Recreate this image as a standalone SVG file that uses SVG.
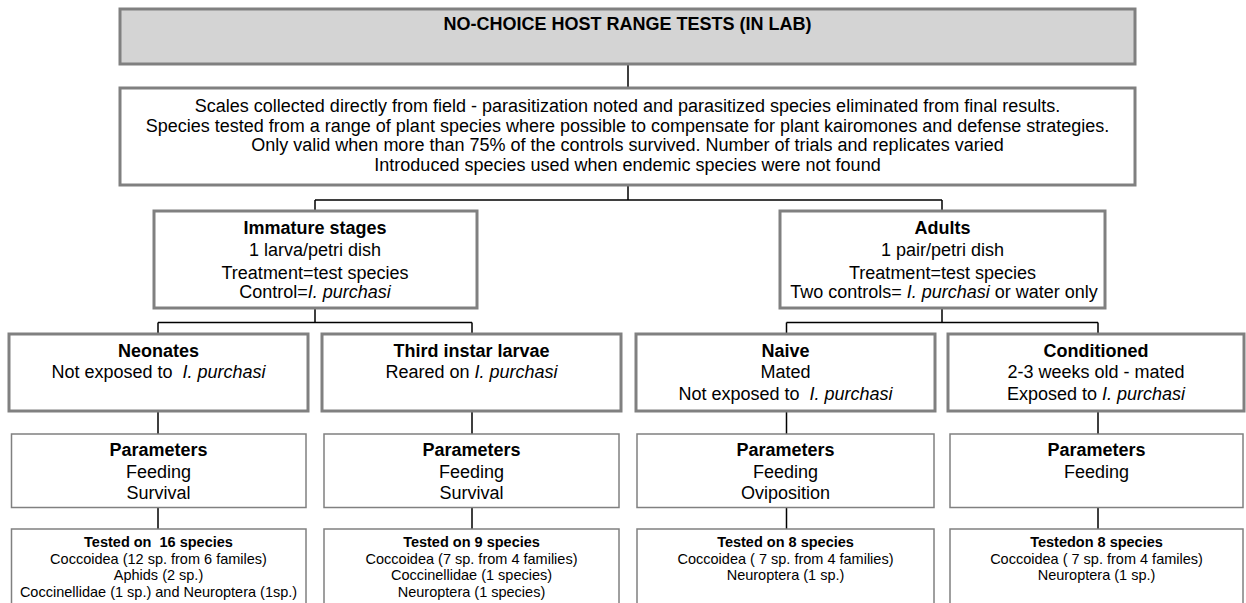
<svg xmlns="http://www.w3.org/2000/svg" width="1246" height="603" viewBox="0 0 1246 603" xml:space="preserve">
<style>
.gray{fill:#d4d4d4;stroke:#808080;stroke-width:3}
.thick{fill:#fff;stroke:#808080;stroke-width:3}
.thin{fill:#fff;stroke:#808080;stroke-width:1.5}
.c{fill:none;stroke:#000;stroke-width:1.5}
text{font-family:"Liberation Sans",Arial,sans-serif;font-size:18px;fill:#000;text-anchor:middle;white-space:pre}
.b{font-weight:bold}
.s{font-size:14.5px}
.i{font-style:italic}
</style>
<rect width="1246" height="603" fill="#fff"/>
<g id="connectors">
<path class="c" d="M628 64V88 M628 185V200 M315 200H942 M315 200V211 M942 200V211 M315 308V322.5 M158 322.5H472 M158 322.5V334 M472 322.5V334 M942 308V322.5 M786.5 322.5H1098 M786.5 322.5V334 M1098 322.5V334 M158 411V434 M472 411V434 M786.5 411V434 M1098 411V434 M158 507.5V529 M472 507.5V529 M786.5 507.5V529 M1098 507.5V529"/>
</g>
<g id="title">
<rect class="gray" x="120" y="9" width="1015" height="55"/>
<text class="b" x="627.5" y="30">NO-CHOICE HOST RANGE TESTS (IN LAB)</text>
</g>
<g id="conditions">
<rect class="thick" x="120" y="88" width="1015" height="97"/>
<text x="627.5" y="112">Scales collected directly from field - parasitization noted and parasitized species eliminated from final results.</text>
<text x="627.5" y="131.5">Species tested from a range of plant species where possible to compensate for plant kairomones and defense strategies.</text>
<text x="627.5" y="151">Only valid when more than 75% of the controls survived. Number of trials and replicates varied</text>
<text x="627.5" y="170.5">Introduced species used when endemic species were not found</text>
</g>
<g id="immature">
<rect class="thick" x="154" y="211" width="323" height="97"/>
<text class="b" x="315" y="234">Immature stages</text>
<text x="315" y="256">1 larva/petri dish</text>
<text x="315" y="279">Treatment=test species</text>
<text x="315" y="298">Control=<tspan class="i">I. purchasi</tspan></text>
</g>
<g id="adults">
<rect class="thick" x="780" y="211" width="325" height="97"/>
<text class="b" x="942.5" y="234">Adults</text>
<text x="942.5" y="256">1 pair/petri dish</text>
<text x="942.5" y="279">Treatment=test species</text>
<text x="944" y="298">Two controls= <tspan class="i">I. purchasi</tspan> or water only</text>
</g>
<g id="neonates">
<rect class="thick" x="9" y="334" width="299" height="77"/>
<text class="b" x="158.5" y="356.5">Neonates</text>
<text x="158.5" y="378">Not exposed to  <tspan class="i">I. purchasi</tspan></text>
</g>
<g id="third-instar">
<rect class="thick" x="322" y="334" width="299" height="77"/>
<text class="b" x="471.5" y="356.5">Third instar larvae</text>
<text x="471.5" y="378">Reared on <tspan class="i">I. purchasi</tspan></text>
</g>
<g id="naive">
<rect class="thick" x="636" y="334" width="299" height="77"/>
<text class="b" x="785.5" y="356.5">Naive</text>
<text x="785.5" y="378">Mated</text>
<text x="785.5" y="399.5">Not exposed to  <tspan class="i">I. purchasi</tspan></text>
</g>
<g id="conditioned">
<rect class="thick" x="948" y="334" width="296" height="77"/>
<text class="b" x="1096" y="356.5">Conditioned</text>
<text x="1096" y="378">2-3 weeks old - mated</text>
<text x="1096" y="399.5">Exposed to <tspan class="i">I. purchasi</tspan></text>
</g>
<g id="params-neonates">
<rect class="thin" x="11.5" y="434" width="294.5" height="73.5"/>
<text class="b" x="158.5" y="456">Parameters</text>
<text x="158.5" y="477.5">Feeding</text>
<text x="158.5" y="498.5">Survival</text>
</g>
<g id="params-third">
<rect class="thin" x="324" y="434" width="295" height="73.5"/>
<text class="b" x="471.5" y="456">Parameters</text>
<text x="471.5" y="477.5">Feeding</text>
<text x="471.5" y="498.5">Survival</text>
</g>
<g id="params-naive">
<rect class="thin" x="637" y="434" width="297" height="73.5"/>
<text class="b" x="785.5" y="456">Parameters</text>
<text x="785.5" y="477.5">Feeding</text>
<text x="785.5" y="498.5">Oviposition</text>
</g>
<g id="params-conditioned">
<rect class="thin" x="950" y="434" width="293" height="73.5"/>
<text class="b" x="1096.5" y="456">Parameters</text>
<text x="1096.5" y="477.5">Feeding</text>
</g>
<g id="tested-neonates">
<rect class="thin" x="11.5" y="529" width="294.5" height="90"/>
<text class="b s" x="158.5" y="547">Tested on  16 species</text>
<text class="s" x="158.5" y="563.5">Coccoidea (12 sp. from 6 familes)</text>
<text class="s" x="158.5" y="580">Aphids (2 sp.)</text>
<text class="s" x="158.5" y="596.5">Coccinellidae (1 sp.) and Neuroptera (1sp.)</text>
</g>
<g id="tested-third">
<rect class="thin" x="324" y="529" width="295" height="90"/>
<text class="b s" x="471.5" y="547">Tested on 9 species</text>
<text class="s" x="471.5" y="563.5">Coccoidea (7 sp. from 4 families)</text>
<text class="s" x="471.5" y="580">Coccinellidae (1 species)</text>
<text class="s" x="471.5" y="596.5">Neuroptera (1 species)</text>
</g>
<g id="tested-naive">
<rect class="thin" x="637" y="529" width="297" height="90"/>
<text class="b s" x="785.5" y="547">Tested on 8 species</text>
<text class="s" x="785.5" y="563.5">Coccoidea ( 7 sp. from 4 families)</text>
<text class="s" x="785.5" y="580">Neuroptera (1 sp.)</text>
</g>
<g id="tested-conditioned">
<rect class="thin" x="950" y="529" width="293" height="90"/>
<text class="b s" x="1096.5" y="547">Testedon 8 species</text>
<text class="s" x="1096.5" y="563.5">Coccoidea ( 7 sp. from 4 familes)</text>
<text class="s" x="1096.5" y="580">Neuroptera (1 sp.)</text>
</g>
</svg>
